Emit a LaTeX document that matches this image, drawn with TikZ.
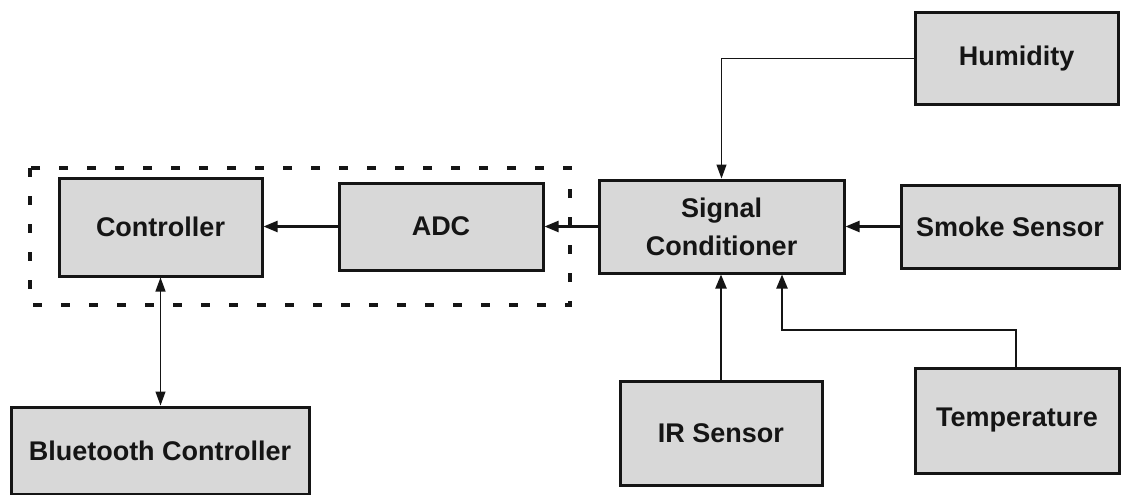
\documentclass[tikz,border=0pt]{standalone}
\usepackage{fontspec}
\setmainfont{Liberation Sans}
\usetikzlibrary{arrows.meta,calc}
\definecolor{boxfill}{HTML}{D8D8D8}
\definecolor{ink}{HTML}{151515}
\tikzset{
  blk/.style={draw=ink, line width=3pt, fill=boxfill, inner sep=0pt, text=ink,
    font=\fontsize{27}{38}\selectfont\bfseries, align=center},
  mainarrow/.style={draw=ink, line width=2.2pt, -{Triangle[length=14pt,width=11pt]}},
  thinarrow/.style={draw=ink, line width=1.2pt, -{Triangle[length=14pt,width=10pt]}},
  grp/.style={draw=ink, line width=4pt, dash pattern=on 9pt off 19pt}
}
\begin{document}
\begin{tikzpicture}[x=1pt,y=-1pt]
\useasboundingbox (0,0) rectangle (1122,495);
\fill[white] (0,0) rectangle (1122,495);
% group
\draw[grp] (30,168) rectangle (570,305);
% blocks
\node[blk, minimum width=203pt, minimum height=98pt] (ctrl) at (160.5,227) {Controller};
\node[blk, minimum width=204pt, minimum height=87pt] (adc) at (441,226.5) {ADC};
\node[blk, minimum width=245pt, minimum height=93pt] (sc) at (721.5,226.5) {Signal\\Conditioner};
\node[blk, minimum width=203pt, minimum height=91pt] (hum) at (1016.5,58.5) {Humidity};
\node[blk, minimum width=218pt, minimum height=83pt] (smoke) at (1010,226.5) {Smoke Sensor};
\node[blk, minimum width=202pt, minimum height=104pt] (ir) at (721,433) {IR Sensor};
\node[blk, minimum width=204pt, minimum height=105pt] (temp) at (1017,420.5) {Temperature};
\node[blk, minimum width=298pt, minimum height=87pt] (bt) at (160,450.5) {Bluetooth Controller};
% connectors
\draw[mainarrow] (adc.west) -- (adc.west -| ctrl.east);
\draw[mainarrow] (sc.west) -- (sc.west -| adc.east);
\draw[mainarrow] (smoke.west) -- (smoke.west -| sc.east);
\draw[thinarrow] (hum.west) -| (sc.north);
\draw[mainarrow] (ir.north) -- (ir.north |- sc.south);
\coordinate (tbend) at (1016,330);
\coordinate (tin) at (782,330);
\draw[mainarrow] (temp.north -| tbend) -- (tbend) -- (tin) -- (tin |- sc.south);
\draw[thinarrow, {Triangle[length=14pt,width=10pt]}-{Triangle[length=14pt,width=10pt]}] (ctrl.south) -- (ctrl.south |- bt.north);
\end{tikzpicture}
\end{document}
